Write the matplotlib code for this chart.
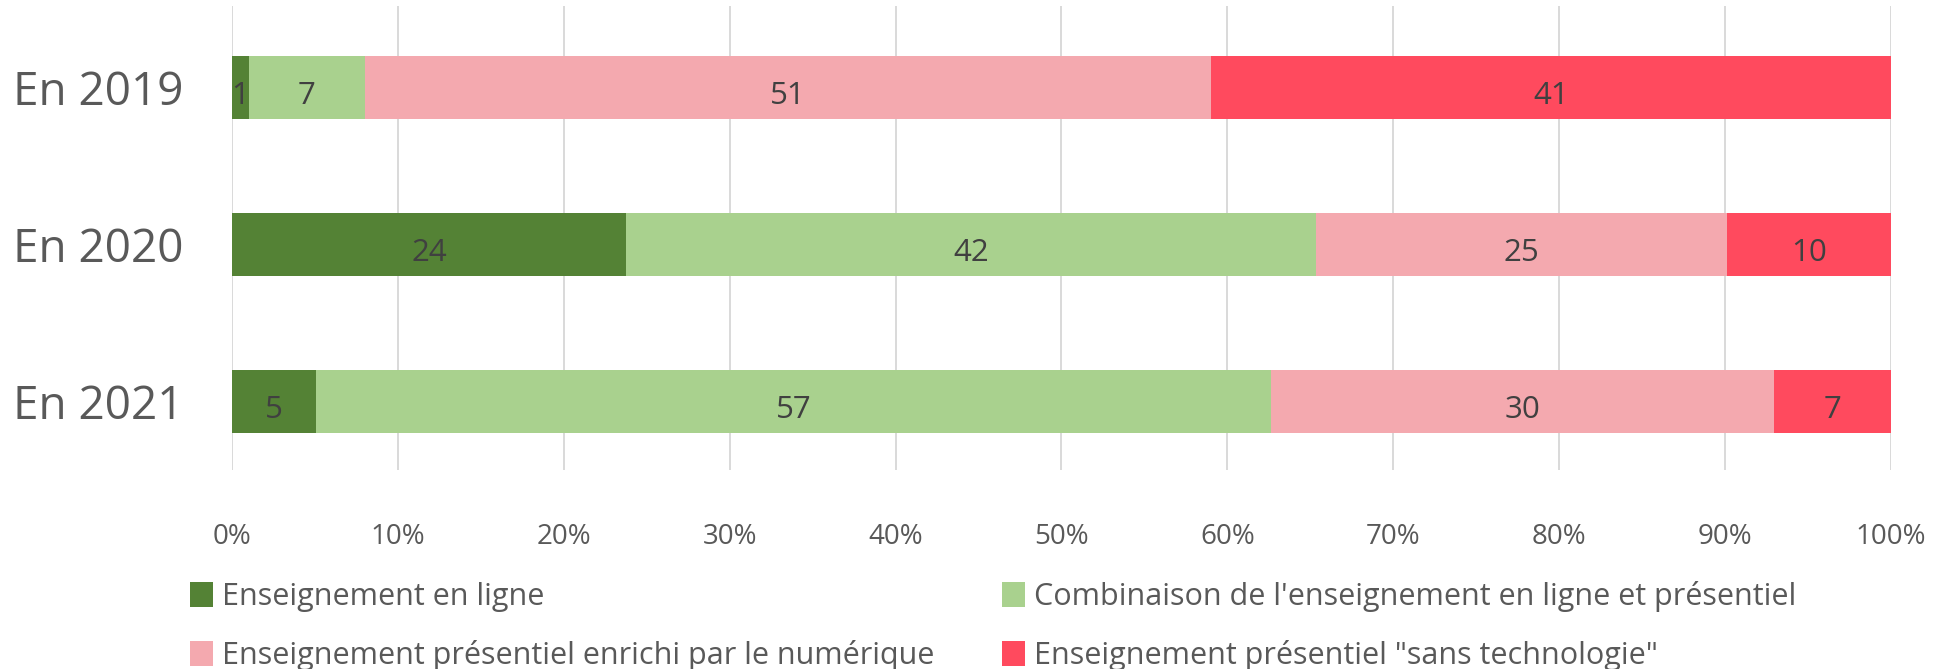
import matplotlib
matplotlib.use("Agg")
import matplotlib.pyplot as plt
import numpy as np

plt.rcParams['font.family'] = ['Open Sans', 'DejaVu Sans']

years = ['En 2019', 'En 2020', 'En 2021']
series = ['Enseignement en ligne',
          "Combinaison de l'enseignement en ligne et présentiel",
          'Enseignement présentiel enrichi par le numérique',
          'Enseignement présentiel "sans technologie"']
en_ligne = [1, 24, 5]
combinaison = [7, 42, 57]
enrichi = [51, 25, 30]
sans_techno = [41, 10, 7]
colors = ['#548235', '#A9D18E', '#F4A9AF', '#FF4A5E']

data = np.array([en_ligne, combinaison, enrichi, sans_techno], dtype=float)
totals = data.sum(axis=0)
shares = data / totals

fig = plt.figure(figsize=(19.38, 6.69), dpi=100)
ax = fig.add_axes([0.1197, 0.2975, 0.856, 0.6935])

y = np.arange(len(years))
left = np.zeros(len(years))
handles = []
for i in range(len(series)):
    bars = ax.barh(y, shares[i], left=left, height=0.40, color=colors[i], label=series[i], zorder=3)
    handles.append(bars)
    for j in range(len(years)):
        cx = left[j] + shares[i][j] / 2
        ax.text(cx, y[j] + 0.055, f"{int(data[i][j])}", ha='center', va='center',
                fontsize=22.5, color='#404040', zorder=4)
    left += shares[i]

ax.set_ylim(2.436, -0.519)
ax.set_xlim(0, 1)
ax.set_yticks(y)
ax.set_yticklabels(years, fontsize=33, color='#595959')
ax.set_xticks(np.arange(0, 1.01, 0.1))
ax.set_xticklabels([f"{int(round(v * 100))}%" for v in np.arange(0, 1.01, 0.1)], fontsize=20, color='#595959')
ax.tick_params(axis='both', length=0)
ax.tick_params(axis='x', pad=38)
ax.tick_params(axis='y', pad=35)
ax.xaxis.grid(True, color='#D9D9D9', lw=1.4, zorder=0)
for s in ax.spines.values():
    s.set_visible(False)

order = [0, 2, 1, 3]
leg = fig.legend([handles[k] for k in order], [series[k] for k in order],
                 loc='upper left', bbox_to_anchor=(0.098, 0.131), ncol=2,
                 frameon=False, fontsize=22, handlelength=0.75, handleheight=0.9,
                 handletextpad=0.3, columnspacing=2.2, labelspacing=0.91,
                 borderaxespad=0, borderpad=0)
for t in leg.get_texts():
    t.set_color('#595959')

fig.savefig('out.png', dpi=100)
